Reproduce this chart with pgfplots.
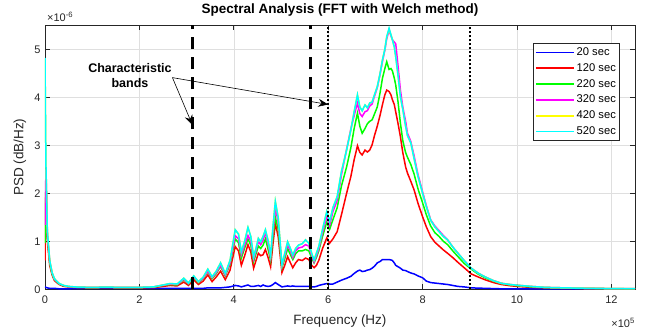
\documentclass[border=0pt]{standalone}
\usepackage{fontspec}
\setmainfont{Liberation Sans}
\usepackage{pgfplots}
\usepackage{pgfplotstable}
\pgfplotsset{compat=1.18}
\usetikzlibrary{arrows.meta}

\definecolor{axgray}{RGB}{38,38,38}
\definecolor{gridgray}{RGB}{223,223,223}
\definecolor{cB}{RGB}{0,0,255}
\definecolor{cR}{RGB}{255,0,0}
\definecolor{cG}{RGB}{0,255,0}
\definecolor{cM}{RGB}{255,0,255}
\definecolor{cY}{RGB}{255,255,0}
\definecolor{cC}{RGB}{0,255,255}

% Welch PSD estimates, frequency in 1e5 Hz, PSD in 1e-6
\pgfplotstableread{
x     s20   s120  s220  s320  s420  s520
0     0.05  0.60  0.96  1.34  4.80  4.82
0.02  0.04  2.25  2.30  2.50  2.60  2.60
0.05  0.03  1.00  1.10  1.15  1.20  1.20
0.10  0.02  0.50  0.55  0.58  0.60  0.60
0.15  0.02  0.30  0.32  0.34  0.35  0.35
0.20  0.02  0.18  0.20  0.21  0.22  0.22
0.30  0.01  0.10  0.11  0.115 0.12  0.12
0.40  0.01  0.06  0.07  0.075 0.08  0.08
0.50  0.01  0.05  0.055 0.055 0.06  0.06
0.70  0.015 0.035 0.04  0.045 0.045 0.045
1.00  0.02  0.03  0.035 0.04  0.04  0.04
1.30  0.02  0.035 0.04  0.045 0.045 0.045
1.60  0.02  0.03  0.035 0.04  0.04  0.04
2.00  0.02  0.03  0.035 0.04  0.04  0.04
2.30  0.02  0.035 0.045 0.05  0.05  0.05
2.50  0.02  0.06  0.08  0.085 0.09  0.09
2.65  0.02  0.08  0.10  0.11  0.12  0.12
2.80  0.02  0.07  0.09  0.10  0.11  0.11
2.94  0.02  0.15  0.20  0.21  0.23  0.23
3.04  0.02  0.08  0.11  0.12  0.13  0.13
3.15  0.02  0.20  0.25  0.26  0.28  0.28
3.25  0.02  0.10  0.14  0.15  0.16  0.16
3.35  0.02  0.17  0.22  0.23  0.25  0.25
3.45  0.03  0.30  0.37  0.38  0.42  0.42
3.54  0.03  0.16  0.22  0.24  0.26  0.26
3.63  0.03  0.26  0.33  0.35  0.38  0.38
3.72  0.03  0.38  0.48  0.50  0.55  0.55
3.82  0.04  0.20  0.28  0.30  0.33  0.33
3.92  0.05  0.40  0.52  0.55  0.60  0.60
4.03  0.08  0.89  1.05  1.12  1.24  1.24
4.10  0.07  0.80  0.97  1.05  1.15  1.15
4.16  0.05  0.50  0.65  0.72  0.78  0.78
4.23  0.07  0.70  0.86  0.92  1.00  1.00
4.30  0.09  0.93  1.05  1.12  1.29  1.29
4.36  0.06  0.78  0.92  1.00  1.10  1.10
4.42  0.06  0.44  0.58  0.63  0.68  0.68
4.47  0.07  0.60  0.74  0.80  0.85  0.85
4.52  0.08  0.75  0.90  1.00  1.06  1.06
4.57  0.06  0.70  0.85  0.93  0.99  0.99
4.62  0.09  0.72  0.92  1.02  1.10  1.10
4.67  0.07  0.83  1.05  1.18  1.24  1.24
4.73  0.06  0.65  0.82  0.93  1.00  1.00
4.78  0.07  0.47  0.60  0.66  0.71  0.71
4.83  0.10  0.95  1.10  1.20  1.30  1.30
4.88  0.14  1.37  1.50  1.70  1.83  1.83
4.94  0.10  1.10  1.25  1.40  1.50  1.50
5.02  0.05  0.35  0.45  0.48  0.51  0.51
5.08  0.06  0.50  0.64  0.70  0.75  0.75
5.14  0.07  0.68  0.85  0.92  0.99  0.99
5.20  0.06  0.55  0.72  0.80  0.85  0.85
5.25  0.07  0.45  0.62  0.66  0.71  0.71
5.31  0.06  0.55  0.74  0.80  0.85  0.85
5.37  0.06  0.62  0.80  0.86  0.92  0.92
5.45  0.06  0.60  0.80  0.88  0.95  0.95
5.52  0.06  0.65  0.83  0.93  1.03  1.03
5.59  0.06  0.62  0.80  0.90  0.96  0.96
5.65  0.05  0.50  0.65  0.70  0.75  0.75
5.70  0.05  0.45  0.55  0.57  0.61  0.61
5.75  0.06  0.50  0.66  0.70  0.75  0.75
5.80  0.08  0.60  0.80  0.84  0.89  0.89
5.88  0.10  0.85  1.10  1.18  1.25  1.25
5.97  0.12  1.07  1.40  1.52  1.62  1.62
6.03  0.11  0.96  1.25  1.33  1.41  1.41
6.10  0.11  1.05  1.45  1.62  1.70  1.70
6.19  0.15  1.20  1.70  1.85  1.93  1.93
6.28  0.19  1.55  2.15  2.38  2.45  2.45
6.39  0.23  2.00  2.55  2.92  2.90  2.90
6.48  0.27  2.35  2.95  3.34  3.32  3.32
6.55  0.33  2.70  3.35  3.62  3.70  3.70
6.62  0.38  2.99  3.67  3.88  4.05  4.05
6.67  0.40  2.85  3.40  3.66  3.80  3.80
6.72  0.37  2.80  3.25  3.60  3.72  3.72
6.78  0.38  2.90  3.35  3.70  3.84  3.84
6.83  0.40  2.86  3.45  3.72  3.78  3.78
6.88  0.41  2.90  3.50  3.82  3.88  3.88
6.93  0.44  3.01  3.53  3.86  3.90  3.90
6.98  0.48  3.20  3.65  4.02  4.05  4.05
7.04  0.55  3.40  3.80  4.20  4.22  4.22
7.10  0.58  3.63  4.10  4.48  4.50  4.50
7.15  0.62  3.85  4.40  4.75  4.78  4.78
7.20  0.62  4.05  4.60  4.98  5.00  5.00
7.24  0.62  4.15  4.74  5.22  5.26  5.26
7.29  0.62  4.12  4.58  5.40  5.42  5.44
7.33  0.61  4.05  4.60  5.28  5.30  5.30
7.36  0.60  3.95  4.55  5.20  5.20  5.20
7.40  0.55  3.85  4.40  5.15  5.05  5.05
7.43  0.50  3.70  4.26  5.12  4.85  4.85
7.48  0.47  3.45  3.90  4.65  4.45  4.45
7.53  0.44  3.18  3.46  4.15  4.01  4.01
7.58  0.40  2.85  3.10  3.80  3.75  3.75
7.64  0.39  2.55  2.85  3.50  3.40  3.40
7.68  0.37  2.42  2.75  3.25  3.20  3.20
7.75  0.34  2.25  2.60  3.08  3.05  3.05
7.82  0.32  2.07  2.40  2.78  2.72  2.72
7.90  0.28  1.80  2.10  2.40  2.36  2.36
8.00  0.24  1.51  1.80  2.03  2.00  2.00
8.08  0.17  1.30  1.55  1.74  1.72  1.72
8.17  0.14  1.10  1.32  1.45  1.44  1.44
8.26  0.13  0.98  1.18  1.32  1.30  1.30
8.35  0.12  0.90  1.10  1.22  1.20  1.20
8.44  0.11  0.82  1.00  1.12  1.10  1.10
8.53  0.10  0.75  0.93  1.03  1.03  1.03
8.64  0.08  0.66  0.80  0.88  0.88  0.88
8.75  0.06  0.56  0.68  0.75  0.75  0.75
8.88  0.05  0.45  0.54  0.60  0.60  0.60
9.03  0.03  0.32  0.42  0.44  0.44  0.44
9.17  0.025 0.26  0.32  0.34  0.34  0.34
9.32  0.02  0.20  0.24  0.26  0.26  0.26
9.50  0.015 0.14  0.17  0.18  0.18  0.18
9.67  0.01  0.10  0.12  0.125 0.125 0.125
9.85  0.01  0.075 0.09  0.10  0.10  0.10
10.0  0.01  0.06  0.075 0.085 0.085 0.085
10.3  0.01  0.04  0.05  0.06  0.06  0.06
10.6  0.01  0.03  0.035 0.04  0.04  0.04
11.0  0.01  0.02  0.025 0.03  0.03  0.03
11.5  0.01  0.015 0.018 0.02  0.02  0.02
12.0  0.01  0.01  0.013 0.015 0.015 0.015
12.5  0.01  0.01  0.01  0.012 0.012 0.012
}\psdtable

\begin{document}
\begin{tikzpicture}
\begin{axis}[
  scale only axis,
  width=590pt, height=264pt,
  xmin=0, xmax=12.5, ymin=0, ymax=5.5,
  xtick={0,2,...,12}, ytick={0,1,...,5},
  xtick pos=both, ytick pos=both,
  xticklabel pos=lower, yticklabel pos=left,
  tick align=inside, major tick length=5pt,
  scaled ticks=false,
  grid=major,
  major grid style={gridgray, line width=0.5pt},
  axis line style={axgray, line width=0.6pt},
  every tick/.style={axgray, line width=0.6pt},
  tick label style={font=\fontsize{11}{13}\selectfont, text=axgray},
  /pgf/number format/assume math mode=true,
  xticklabel style={yshift=-3pt},
  yticklabel style={xshift=-1pt},
  title={\textbf{Spectral Analysis (FFT with Welch method)}},
  title style={font=\fontsize{13.5}{15}\selectfont, at={(axis description cs:0.5,1)}, anchor=base, yshift=6pt},
  xlabel={Frequency (Hz)},
  ylabel={PSD (dB/Hz)},
  label style={font=\fontsize{13.5}{15}\selectfont, text=axgray},
  xlabel style={at={(axis description cs:0.5,-0.121)}, anchor=center},
  ylabel style={at={(axis description cs:-0.0424,0.5)}, anchor=center},
  legend style={at={(0.974,0.932)}, anchor=north east, draw=axgray,
    line width=0.5pt, fill=white, font=\fontsize{11.2}{13}\selectfont,
    inner sep=1.5pt, row sep=0.8pt,
    nodes={text height=8.5pt, text depth=2.5pt, inner sep=2pt}},
  legend cell align=left,
  legend image code/.code={\draw[#1, line width=1.8pt] (0pt,0pt) -- (38pt,0pt);},
  every axis plot/.append style={line width=1.5pt},
  clip=true,
]
\addplot[cB] table[x=x, y=s20]  {\psdtable};
\addlegendentry{20 sec}
\addplot[cR] table[x=x, y=s120] {\psdtable};
\addlegendentry{120 sec}
\addplot[cG] table[x=x, y=s220] {\psdtable};
\addlegendentry{220 sec}
\addplot[cM] table[x=x, y=s320] {\psdtable};
\addlegendentry{320 sec}
\addplot[cY] table[x=x, y=s420] {\psdtable};
\addlegendentry{420 sec}
\addplot[cC] table[x=x, y=s520] {\psdtable};
\addlegendentry{520 sec}

% band limits
\addplot[black, line width=2.3pt, dash pattern=on 12pt off 8pt, forget plot]
  coordinates {(3.125,0) (3.125,5.5)};
\addplot[black, line width=2.3pt, dash pattern=on 12pt off 8pt, forget plot]
  coordinates {(5.625,0) (5.625,5.5)};
\addplot[black, line width=2pt, dash pattern=on 2pt off 2pt, forget plot]
  coordinates {(6.0,0) (6.0,5.5)};
\addplot[black, line width=2pt, dash pattern=on 2pt off 2pt, forget plot]
  coordinates {(9.0,0) (9.0,5.5)};

% annotation
\node[font=\fontsize{12.5}{15.5}\selectfont\bfseries, align=center]
  at (axis cs:1.80,4.45) {Characteristic\\bands};
\draw[line width=0.6pt, -{Stealth[length=10pt, width=8pt, inset=3.5pt]}]
  (axis cs:2.70,4.41) -- (axis cs:3.125,3.42);
\draw[line width=0.6pt, -{Stealth[length=10pt, width=8pt, inset=3.5pt]}]
  (axis cs:2.70,4.41) -- (axis cs:6.0,3.85);
\end{axis}
% exponent labels of the two axes
\node[anchor=base west, font=\fontsize{11}{13}\selectfont, text=axgray, inner sep=0pt]
  at ([xshift=2pt, yshift=3.6pt]current axis.north west) {×10\textsuperscript{-6}};
\node[anchor=base east, font=\fontsize{11}{13}\selectfont, text=axgray, inner sep=0pt]
  at ([yshift=-38.4pt]current axis.south east) {×10\textsuperscript{5}};
\pgfresetboundingbox
\path[use as bounding box] ([shift={(-45pt,-44.7pt)}]current axis.south west) rectangle ++(649pt,334pt);
\end{tikzpicture}
\end{document}
